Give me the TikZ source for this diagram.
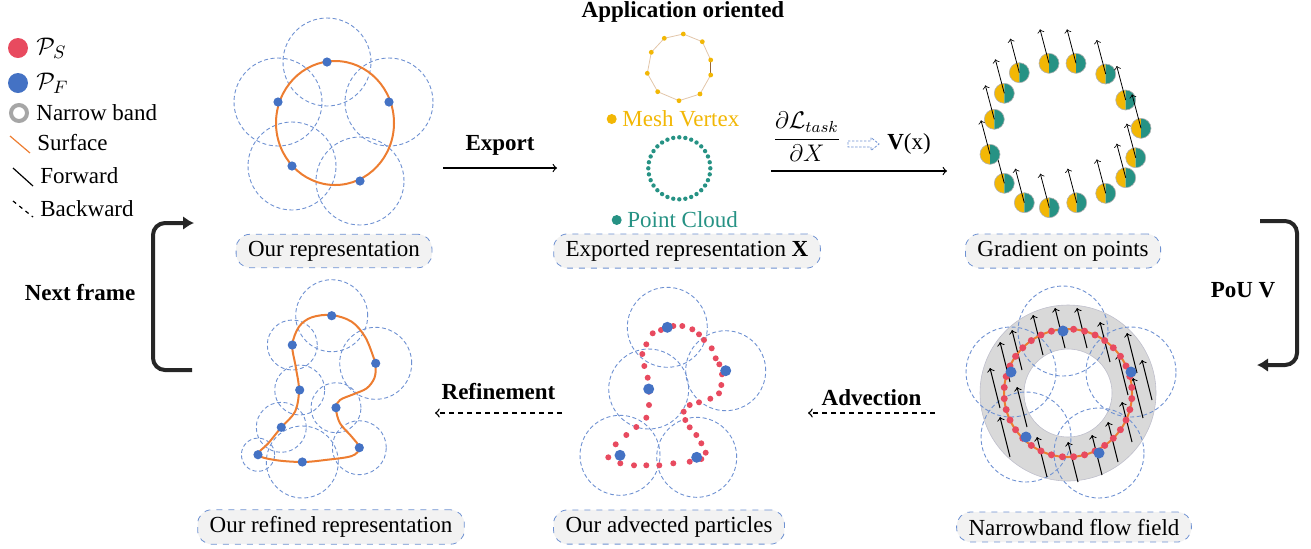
\documentclass[tikz,border=0pt]{standalone}
\usepackage{amssymb,amsmath}
\usepackage{fontspec}
\setmainfont{Liberation Serif}
\usetikzlibrary{%
  arrows.meta,%
  calc%
}
\definecolor{ptred}{RGB}{232,74,95}
\definecolor{ptblue}{RGB}{68,114,196}
\definecolor{surforange}{RGB}{237,125,49}
\definecolor{meshgold}{RGB}{242,183,5}
\definecolor{cloudteal}{RGB}{38,146,132}
\definecolor{poublue}{RGB}{110,145,210}
\definecolor{bandgray}{RGB}{217,217,217}
\definecolor{boxgray}{RGB}{242,242,242}
\tikzset{>=to,
  pou/.style = {draw=poublue, line width=0.45pt, dash pattern=on 2pt off 1.3pt},
  surface/.style = {draw=surforange, line width=1pt},
  caption/.style = {draw=poublue, dashed, fill=boxgray, rounded corners=7pt,
    minimum height=15pt, inner xsep=6pt},
  steplabel/.style = {font=\bfseries\fontsize{11.5}{13}\selectfont},
  legtext/.style = {anchor=west, inner sep=0pt},
  forward/.style = {->, line width=0.6pt},
  backward/.style = {->, line width=0.7pt, dash pattern=on 2.5pt off 2pt},
  grad/.style = {->, line width=0.4pt},
  framearrow/.style = {line width=2pt, draw=black!85, rounded corners=6pt,
    -{Latex[length=5.5pt,width=7pt]}}}

\begin{document}
\begin{tikzpicture}[x=0.5pt, y=-0.5pt, font=\fontsize{11.5}{13}\selectfont]
  \useasboundingbox (0,0) rectangle (1311,548);
  % legend
  \fill[ptred] (18,48) circle[radius=5pt];
  \node[legtext, font=\fontsize{13}{15}\selectfont] (lg-s) at (36,48) {$\mathcal{P}_S$};
  \fill[ptblue] (18,83) circle[radius=5pt];
  \node[legtext, font=\fontsize{13}{15}\selectfont] (lg-f) at (36,83) {$\mathcal{P}_F$};
  \draw[black!35, line width=2pt] (19,113) circle[radius=4pt];
  \node[legtext] (lg-b) at (36,113) {Narrow band};
  \draw[surforange, line width=0.6pt] (10,136) -- (30,153);
  \node[legtext] (lg-u) at (37,143) {Surface};
  \draw[line width=0.6pt] (13,168) -- (33,186);
  \node[legtext] (lg-w) at (40,176) {Forward};
  \draw[line width=0.6pt, dash pattern=on 2pt off 2pt] (13,201) -- (33,217);
  \node[legtext] (lg-k) at (40,209) {Backward};

  % our representation
  \foreach \x/\y in {327/62, 278/102, 389/102, 292/166, 360/181}
    \draw[pou] (\x,\y) circle[radius=22pt];
  \draw[surface] (335,123) ellipse[x radius=29.5pt, y radius=31pt];
  \foreach \x/\y in {327/62, 278/102, 389/102, 292/166, 360/181}
    \fill[ptblue] (\x,\y) circle[radius=2.3pt];
  \node[caption] (cap-rep) at (334,251) {Our representation};

  \coordinate (exp-a) at (443,168);
  \coordinate (exp-b) at (557,168);
  \draw[forward] (exp-a) -- (exp-b) node[midway, above=2.5pt, steplabel] {Export};

  % exported representation
  \node[steplabel] (app) at (683,12) {Application oriented};
  \foreach \x/\y [count=\i] in {664.3/38.3, 683.3/34, 702.3/41.7, 710.7/60, 710.7/75,
      700/94, 679/100.7, 657.7/91.7, 647.3/73.3, 651.3/52.3}
    \coordinate (mv\i) at (\x,\y);
  \draw[brown!45, line width=0.4pt] (mv4) -- (mv3) -- (mv2) -- (mv1) -- (mv10) -- (mv9)
    -- (mv8) -- (mv7) -- (mv6) -- (mv5);
  \draw[brown!80!black, line width=0.7pt] (mv4) -- (mv5);
  \foreach \i in {1,...,10}
    \fill[meshgold] (mv\i) circle[radius=1.2pt];
  \fill[meshgold] (611.7,119) circle[radius=2.5pt];
  \node[legtext, text=meshgold] (mesh) at (622,119) {Mesh Vertex};
  \foreach \a in {0,11.25,...,359}
    \fill[cloudteal] ($(679.3,168.3)+(\a:31)$) circle[radius=1.1pt];
  \fill[cloudteal] (616.7,220) circle[radius=2.5pt];
  \node[legtext, text=cloudteal] (cloud) at (627,220) {Point Cloud};
  \node[caption] (cap-exp) at (687,251) {Exported representation \textbf{X}};

  \coordinate (grd-a) at (771,171);
  \coordinate (grd-b) at (947,171);
  \draw[forward] (grd-a) -- (grd-b);
  \node (dldx) at (807,137) {$\displaystyle\frac{\partial\mathcal{L}_{task}}{\partial X}$};
  \draw[poublue, line width=0.4pt, dash pattern=on 1.2pt off 0.8pt] (848,141) -- (871,141)
    -- (871,137.5) -- (879,144) -- (871,150.5) -- (871,147) -- (848,147) -- cycle;
  \node (vx) at (909,144) {\textbf{V}(x)};

  % gradient on points
  \foreach \x/\y in {1019.3/72.7, 1049/63.3, 1076/63.3, 1105.7/74, 1125.7/100, 1141/128.3,
      1135.7/157.7, 1125.7/177.7, 1105.7/193.3, 1076.7/202.7, 1049.3/207.7, 1024.3/202.7,
      1004.3/183.3, 990/154.3, 994.3/119.3, 1004.3/93.3} {
    \fill[meshgold] (\x,{\y-10}) arc[start angle=90, end angle=270, radius=5pt] -- cycle;
    \fill[cloudteal] (\x,{\y-10}) arc[start angle=90, end angle=-90, radius=5pt] -- cycle;
    \draw[black!30, line width=0.3pt] (\x,\y) circle[radius=5pt];
    \draw[grad] (\x,\y) -- ++(-9,-34);
  }
  \node[caption] (cap-grd) at (1063,251) {Gradient on points};

  \coordinate (pou-a) at (1260,221);
  \coordinate (pou-b) at (1257,365);
  \draw[framearrow] (pou-a) -- ++(37,0) |- (pou-b);
  \node[steplabel] (pou-l) at (1243,290) {PoU V};

  % narrowband flow field
  \coordinate (band) at (1068,393);
  \fill[bandgray, even odd rule] (band) circle[radius=44pt] (band) circle[radius=22pt];
  \draw[blue!20!black!25, line width=0.3pt] (band) circle[radius=44pt] (band) circle[radius=22pt];
  \foreach \x/\y in {1063/331, 1131/372, 1099/453, 1026/437, 1011/372}
    \draw[pou] (\x,\y) circle[radius=22.5pt];
  \foreach \x/\y in {1065/348, 1087/348, 1110/362, 1043/355, 1022/370, 1010/382, 1000/408,
      1027/427, 1010/457, 1047/477, 1078/482, 1102/475, 1118/462, 1132/442, 1143/418,
      1152/400, 1137/373, 1128/395}
    \draw[grad, line width=0.5pt] (\x,\y) -- ++(-10,-40);
  \draw[surface] (band) circle[radius=32pt];
  \foreach \a in {5,15,...,355}
    \fill[ptred] ($(band)+(\a:64)$) circle[radius=1.75pt];
  \foreach \x/\y in {1063/331, 1131/372, 1099/453, 1026/437, 1011/372}
    \fill[ptblue] (\x,\y) circle[radius=2.75pt];
  \node[caption] (cap-flow) at (1074,527) {Narrowband flow field};

  \coordinate (adv-a) at (935,413);
  \coordinate (adv-b) at (808,413);
  \draw[backward] (adv-a) -- (adv-b) node[midway, above=0pt, steplabel] {Advection};

  % advected particles
  \foreach \x/\y in {667.3/327.3, 725.7/370.7, 648.7/389, 620/455.3, 696.7/457.3}
    \draw[pou] (\x,\y) circle[radius=20pt];
  \foreach \x/\y in {661/330, 673.3/326, 682.3/326, 692.3/329.3, 699/334.3, 704/340,
      711.7/348.3, 715.7/358.3, 719.3/364.3, 722/374.3, 721.3/385, 719/393.3, 710.3/398.7,
      699/402.3, 689.7/405, 683.7/411.7, 685.3/420, 689.7/427.3, 696.3/435, 701.3/443.3,
      705.7/452.7, 701.3/459, 689.7/461.7, 673.3/463.3, 659.3/465.3, 646.3/465.3, 634/465.3,
      620.3/463.3, 608.3/457.3, 615.7/444.3, 626.3/435, 636.3/427, 646.3/417.7, 649/405,
      649/391.7, 647.7/377.7, 644.3/366, 642.3/354, 646.3/344.3, 652.7/333.3}
    \fill[ptred] (\x,\y) circle[radius=1.5pt];
  \foreach \x/\y in {667.3/327.3, 725.7/370.7, 648.7/389, 620/455.3, 696.7/457.3}
    \fill[ptblue] (\x,\y) circle[radius=2.75pt];
  \node[caption] (cap-adv) at (669,527) {Our advected particles};

  \coordinate (ref-a) at (562,413);
  \coordinate (ref-b) at (435,413);
  \draw[backward] (ref-a) -- (ref-b) node[midway, above=3pt, steplabel] {Refinement};

  % refined representation
  \foreach \x/\y/\r in {331.7/315.7/18, 292.3/345/12.5, 375.7/363.3/18, 299.7/390/12.5,
      336/407.7/12.5, 281.3/427.3/12.5, 359.3/447.7/13.5, 258/454.7/8.3, 302.3/462/18}
    \draw[pou] (\x,\y) circle[radius=\r pt];
  \draw[surface] plot[smooth cycle, tension=0.55] coordinates {(258,454.7) (268.3,443.3)
      (281.3,427.3) (295,411.7) (299,390) (295.7,366.7) (292.3,345) (299,326.7) (311.7,317.3)
      (331.7,315) (351.7,321.7) (365,336.7) (373.3,356.7) (375.7,366.7) (374.3,378.3)
      (366.7,388.3) (353.3,394.3) (340,400) (336,408.3) (340,423.3) (351.7,436.7)
      (359.3,447.7) (351.7,456) (325,460) (302.3,462) (275,460)};
  \foreach \x/\y in {331.7/315.7, 292.3/345, 375.7/363.3, 299.7/390, 336/407.7, 281.3/427.3,
      359.3/447.7, 258/454.7, 302.3/462}
    \fill[ptblue] (\x,\y) circle[radius=2.3pt];
  \node[caption] (cap-ref) at (331,527) {Our refined representation};

  \coordinate (nf-a) at (192,370);
  \coordinate (nf-b) at (194,223);
  \draw[framearrow] (nf-a) -- ++(-39,0) |- (nf-b);
  \node[steplabel] (nf-l) at (80,293) {Next frame};
\end{tikzpicture}
\end{document}
